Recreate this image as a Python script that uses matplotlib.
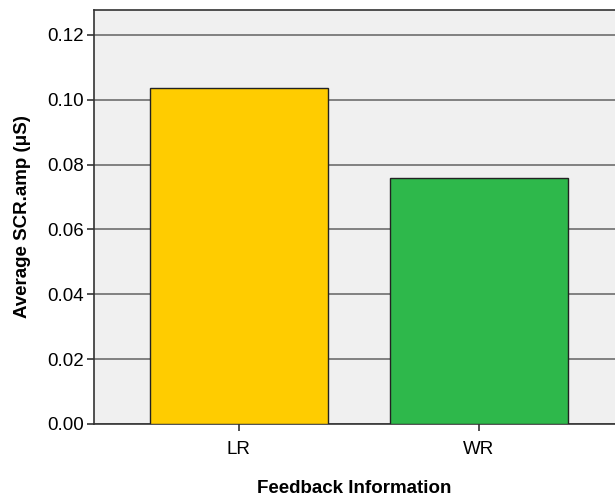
import numpy as np
import matplotlib
matplotlib.use('Agg')
import matplotlib.pyplot as plt

plt.rcParams['font.family'] = ['Liberation Sans', 'DejaVu Sans']

categories = ['LR', 'WR']
scr_amp = [0.1037, 0.0760]
bar_colors = ['#FFCC00', '#2EB84B']
yticks = [0.00, 0.02, 0.04, 0.06, 0.08, 0.10, 0.12]

fig = plt.figure(figsize=(6.15, 4.96), dpi=100)
ax = fig.add_axes([0.1528, 0.1452, 0.8472, 0.8347])
ax.set_facecolor('#F0F0F0')

x = np.arange(len(categories))
ax.set_axisbelow(True)
ax.yaxis.grid(True, color='#6E6E6E', linewidth=1.2)
ax.bar(x, scr_amp, width=0.74, color=bar_colors, edgecolor='#222222', linewidth=1.0, zorder=3)

ax.set_xlim(-0.604, 1.567)
ax.set_ylim(0, 0.1277)
ax.set_yticks(yticks)
ax.set_yticklabels(['%.2f' % v for v in yticks])
ax.set_xticks(x)
ax.set_xticklabels(categories)
ax.tick_params(axis='both', labelsize=13.5, color='#333333', length=5, width=1.2)
ax.tick_params(axis='y', pad=2)
ax.tick_params(axis='x', pad=7)

for s in ['left', 'bottom', 'top']:
    ax.spines[s].set_color('#333333')
    ax.spines[s].set_linewidth(1.2)
ax.spines['right'].set_visible(False)

ax.set_ylabel('Average SCR.amp (μS)', fontsize=13.5, fontweight='bold', labelpad=12)
ax.set_xlabel('Feedback Information', fontsize=13.5, fontweight='bold', labelpad=16)

fig.savefig('out.png', dpi=100)
